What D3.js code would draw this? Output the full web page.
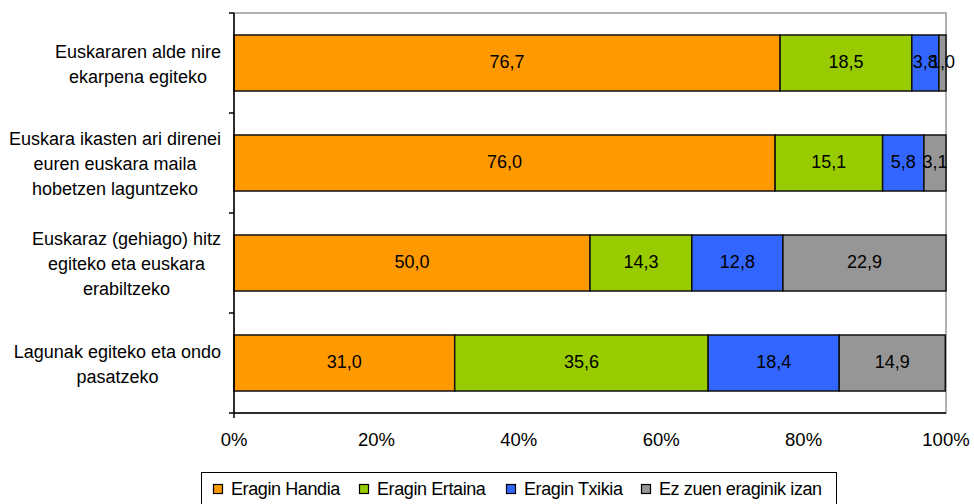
<!DOCTYPE html>
<html><head><meta charset="utf-8">
<script src="https://d3js.org/d3.v7.min.js"></script>
<style>body{margin:0;background:#fff}svg{display:block}text{font-family:"Liberation Sans",Arial,sans-serif}</style>
</head><body>
<script>
const categories = [
  ["Euskararen alde nire","ekarpena egiteko"],
  ["Euskara ikasten ari direnei","euren euskara maila","hobetzen laguntzeko"],
  ["Euskaraz (gehiago) hitz","egiteko eta euskara","erabiltzeko"],
  ["Lagunak egiteko eta ondo","pasatzeko"]
];
const seriesNames = ["Eragin Handia","Eragin Ertaina","Eragin Txikia","Ez zuen eraginik izan"];
const handia  = [76.7, 76.0, 50.0, 31.0];
const ertaina = [18.5, 15.1, 14.3, 35.6];
const txikia  = [3.8, 5.8, 12.8, 18.4];
const ez      = [1.0, 3.1, 22.9, 14.9];
const xTicks = [0, 20, 40, 60, 80, 100];
const colors = ["#FF9900","#99CC00","#3366FF","#969696"];

const W = 974, H = 504;
const m = {l:234, r:28, t:13, b:91};
const svg = d3.select("body").append("svg").attr("width",W).attr("height",H);
const x = d3.scaleLinear().domain([0,100]).range([m.l, W-m.r]);
const y = d3.scaleBand().domain(d3.range(categories.length)).range([m.t, H-m.b]).paddingInner(0.44).paddingOuter(0.22);
const yb = d3.scaleBand().domain(d3.range(categories.length)).range([m.t, H-m.b]);

// plot border (gray)
svg.append("rect").attr("x",x(0)).attr("y",m.t).attr("width",x(100)-x(0)).attr("height",H-m.b-m.t)
  .attr("fill","none").attr("stroke","#999").attr("stroke-width",1.5);

const series = [handia, ertaina, txikia, ez];
const rows = categories.map((c,i)=>{let acc=0; return series.map((s,k)=>{const o={k,v:s[i],x0:acc,x1:acc+s[i],i}; acc+=s[i]; return o;});});
const fmt = v => d3.format(".1f")(v).replace(".",",");

rows.forEach((r,i)=>{
  const g = svg.append("g");
  g.selectAll("rect").data(r).join("rect")
    .attr("x",d=>x(d.x0)).attr("y",y(i)).attr("width",d=>x(d.x1)-x(d.x0)).attr("height",y.bandwidth())
    .attr("fill",d=>colors[d.k]).attr("stroke","#111").attr("stroke-width",1.5);
  g.selectAll("text").data(r).join("text")
    .attr("x",d=>(x(d.x0)+x(d.x1))/2).attr("y",y(i)+y.bandwidth()/2-1).attr("dy","0.36em")
    .attr("text-anchor","middle").attr("font-size",18).attr("fill","#000")
    .text(d=>fmt(d.v));
});

// y axis
svg.append("line").attr("x1",x(0)).attr("x2",x(0)).attr("y1",m.t).attr("y2",H-m.b+5).attr("stroke","#000").attr("stroke-width",1.5);
yb.domain().concat([categories.length]).forEach(i=>{
  const yy = i<categories.length ? yb(i) : H-m.b;
  svg.append("line").attr("x1",x(0)-5).attr("x2",x(0)).attr("y1",yy).attr("y2",yy).attr("stroke","#000").attr("stroke-width",1.5);
});
// x axis
svg.append("line").attr("x1",x(0)).attr("x2",x(100)).attr("y1",H-m.b).attr("y2",H-m.b).attr("stroke","#000").attr("stroke-width",1.5);
svg.selectAll(".xt").data(xTicks).join("text").attr("class","xt")
  .attr("x",d=>x(d)).attr("y",446).attr("text-anchor","middle").attr("font-size",18.5)
  .text(d=>d+"%");

// category labels
categories.forEach((lines,i)=>{
  const g = svg.append("g");
  const cy = yb(i)+yb.bandwidth()/2+1;
  const lh = 25;
  const ts = lines.map((l,j)=>g.append("text").attr("y",cy+(j-(lines.length-1)/2)*lh).attr("dy","0.36em")
      .attr("text-anchor","middle").attr("font-size",18).text(l));
  const maxW = d3.max(ts, t=>t.node().getComputedTextLength());
  ts.forEach(t=>t.attr("x",221-maxW/2));
});

// legend
const lg = svg.append("g");
lg.append("rect").attr("x",201.5).attr("y",472.5).attr("width",635).attr("height",40).attr("fill","#fff").attr("stroke","#000").attr("stroke-width",1);
const lx = [213, 359, 506, 641];
seriesNames.forEach((n,k)=>{
  lg.append("rect").attr("x",lx[k]+0.5).attr("y",484.5).attr("width",9).attr("height",9).attr("fill",colors[k]).attr("stroke","#000").attr("stroke-width",1.2);
  lg.append("text").attr("x",lx[k]+18).attr("y",489).attr("dy","0.36em").attr("font-size",18).attr("letter-spacing",-0.4).text(n);
});
</script>
</body></html>
